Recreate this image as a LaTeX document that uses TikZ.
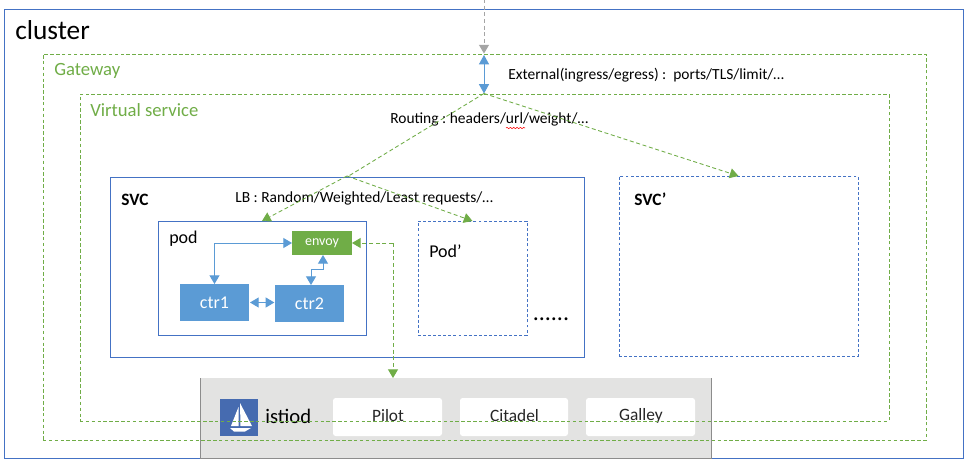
\documentclass[tikz,border=0pt]{standalone}
\usepackage{fontspec}
\setmainfont{Carlito}
\usetikzlibrary{arrows.meta,fit,decorations.pathmorphing}
\definecolor{cgreen}{HTML}{70AD47}
\definecolor{cblue}{HTML}{5B9BD5}
\definecolor{cline}{HTML}{4472C4}
\definecolor{cgrey}{HTML}{A5A5A5}
\definecolor{cdash}{HTML}{8C8C8C}
\definecolor{cpanel}{HTML}{E3E3E2}
\definecolor{clogo}{HTML}{466BB0}
\frenchspacing
\tikzset{
  frame/.style={inner sep=0pt,outer sep=0pt},
  solidbox/.style={frame,draw=cline,line width=.75pt},
  dashblue/.style={frame,draw=cline,line width=.6pt,dash pattern=on 2.2pt off 1.6pt},
  dashgreen/.style={frame,draw=cgreen,line width=.55pt,dash pattern=on 2.6pt off 1.8pt},
  fillblue/.style={frame,fill=cblue,text=white,font=\fontsize{13.5}{15}\selectfont},
  fillgreen/.style={frame,fill=cgreen,text=white,font=\fontsize{10.5}{12}\selectfont},
  chip/.style={frame,fill=white,rounded corners=2pt},
  chiptext/.style={anchor=center,inner sep=0pt,font=\fontsize{13}{15}\selectfont,text=black!85},
  note/.style={anchor=west,inner sep=0pt,font=\fontsize{11.6}{13}\selectfont,text=black},
  title/.style={anchor=west,inner sep=0pt,font=\fontsize{13.5}{15}\selectfont,text=black},
  titlebold/.style={title,font=\fontsize{13}{15}\selectfont\bfseries},
  greentitle/.style={anchor=west,inner sep=0pt,font=\fontsize{14}{16}\selectfont,text=cgreen},
  route/.style={draw=cgreen,line width=.65pt,dash pattern=on 3pt off 2pt,-{Triangle[length=6.5pt,width=7.5pt,fill=cgreen]}},
  routeplain/.style={draw=cgreen,line width=.65pt,dash pattern=on 3pt off 2pt},
  bluelink/.style={draw=cblue,line width=.75pt,{Triangle[length=6.5pt,width=7.5pt]}-{Triangle[length=6.5pt,width=7.5pt]}},
}
\begin{document}
\begin{tikzpicture}[x=.75pt,y=-.75pt]
\useasboundingbox (0,0) rectangle (967,461);
\fill[white] (0,0) rectangle (967,461);
% containers
\node[solidbox,fit={(4,9)(963,458)}] (cluster) {};
% istiod panel
\node[frame,fill=cpanel,fit={(200,378)(711,458)}] (panel) {};
\draw[cdash,line width=.55pt] (panel.north west) -- (panel.south west) -- (panel.south east) -- (panel.north east);
\node[frame,fill=clogo,fit={(220,399)(258,436)}] (logo) {};
\fill[white] (240,403) -- (252,426) -- (240.5,426) -- cycle;
\fill[white] (238.5,407) -- (238.5,426) -- (231,426) -- cycle;
\fill[white] (230,428) -- (251,428) -- (245,431.5) -- (234,431.5) -- cycle;
\node[chip,fit={(333,398)(442,436)}] (pilot) {};
\node[chip,fit={(460,398)(568,436)}] (citadel) {};
\node[chip,fit={(586,398)(695,436)}] (galley) {};
\node[chiptext] (pilott) at (388,415.5) {Pilot};
\node[chiptext] (citadelt) at (514.5,415.5) {Citadel};
\node[chiptext] (galleyt) at (641,415.5) {Galley};
\node[anchor=west,inner sep=0pt,font=\fontsize{15.5}{17}\selectfont,text=black] (istiod) at (265,416) {istiod};
% dashed frames
\node[dashgreen,fit={(43,54)(926,440)}] (gateway) {};
\node[dashgreen,fit={(80,94)(889,421)}] (vs) {};
\node[solidbox,fit={(110,177)(584,357)}] (svc) {};
\node[dashblue,fit={(619,176)(858,356)}] (svcp) {};
\node[solidbox,fit={(158,221)(366,335)}] (pod) {};
\node[dashblue,fit={(418,221)(527,335)}] (podp) {};
% filled boxes
\node[fillgreen,fit={(292,231)(352,255)}] (envoy) {};
\node[fillgreen,fill=none] (envoyt) at (322,243) {envoy};
\node[fillblue,fit={(180,284)(249,321)}] (ctr1) {};
\node[fillblue,fill=none] (ctr1t) at (214.5,303) {ctr1};
\node[fillblue,fit={(275,285)(344,322)}] (ctr2) {};
\node[fillblue,fill=none] (ctr2t) at (309.5,304) {ctr2};
% texts
\node[anchor=west,inner sep=0pt,font=\fontsize{20.5}{23}\selectfont] (clustert) at (15,30) {cluster};
\node[greentitle] (gatewayt) at (54,71) {Gateway};
\node[greentitle] (vst) at (90,110) {Virtual service};
\node[note] (ext) at (508,75.5) {External(ingress/egress) :\ \ ports/TLS/limit/…};
\node[note] (rout) at (390,119) {Routing : headers/url/weight/…};
\node[note] (lbt) at (235,198.5) {LB : Random/Weighted/Least requests/…};
\node[titlebold] (svct) at (121,200) {SVC};
\node[titlebold] (svcpt) at (634,199) {SVC’};
\node[title] (podt) at (169,238.5) {pod};
\node[title] (podpt) at (429,251) {Pod’};
\node[anchor=west,inner sep=0pt,font=\fontsize{18}{19}\selectfont] (dots) at (532.5,319) {......};
\draw[red,line width=.4pt,decorate,decoration={snake,amplitude=.5pt,segment length=2.5pt}] (506,128) -- (525,128);
% connectors
\coordinate (incoming) at (484,-1);
\coordinate (gwtop) at (484,53.5);
\coordinate (gwtopb) at (484,55);
\coordinate (vstop) at (484,93.5);
\coordinate (lb) at (347,176);
\coordinate (bend) at (393,243);
\coordinate (ctrbend) at (214.5,243);
\coordinate (stepa) at (311,269);
\coordinate (stepb) at (323,269);
\coordinate (panelin) at (393,378);
\draw[cgrey,line width=.75pt,dash pattern=on 3pt off 2pt,-{Triangle[length=6.5pt,width=7.5pt,fill=cgrey]}] (incoming) -- (gwtop);
\draw[bluelink,{Triangle[length=7pt,width=7.5pt]}-{Triangle[length=7pt,width=7.5pt]}] (gwtopb) -- (vstop);
\draw[routeplain] (vstop) -- (svc.north);
\draw[route] (vstop) -- (svcp.north);
\draw[route] (lb) -- (pod.north);
\draw[route] (lb) -- (podp.north);
\draw[route] (bend) -- (envoy.east);
\draw[route] (bend) -- (panelin);
\draw[bluelink] (envoy.west) -- (ctrbend) -- (ctr1.north);
\draw[bluelink] (ctr1.east) ++(1,0) -- ([xshift=-.5pt]ctr2.west |- ctr1.east);
\draw[bluelink] (ctr2.north -| stepa) -- (stepa) -- (stepb) -- (envoy.south -| stepb);
\end{tikzpicture}
\end{document}
